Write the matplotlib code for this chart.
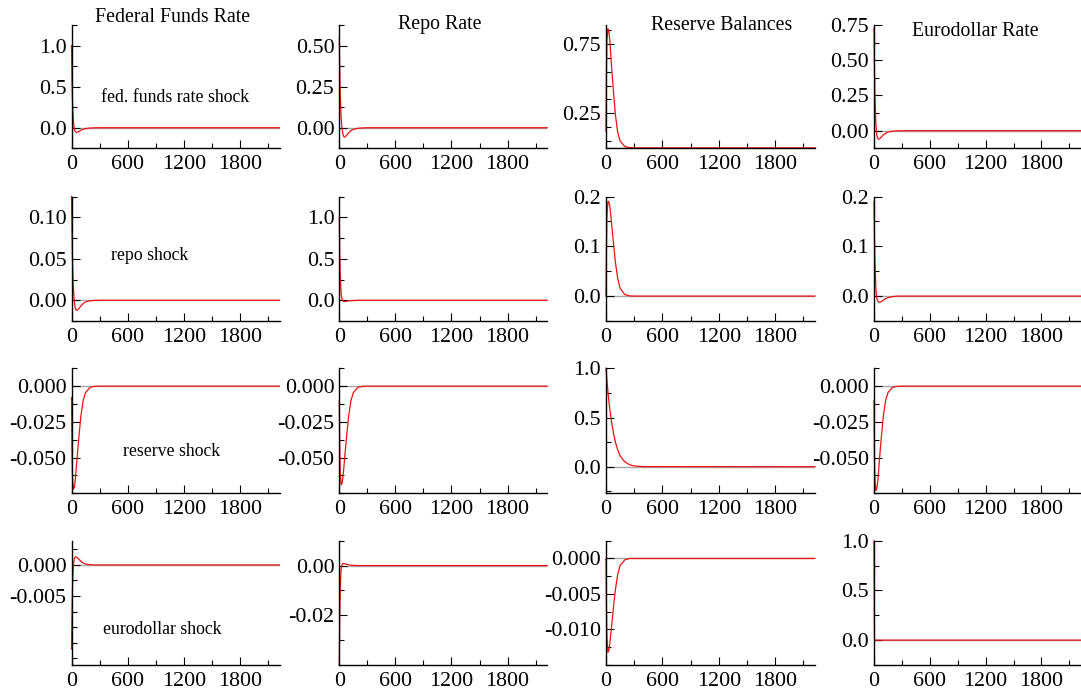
"""
Impulse responses of four money market rates/quantities to four shocks.
"""

import numpy as np
import matplotlib
matplotlib.use("Agg")
import matplotlib.pyplot as plt
from matplotlib.ticker import FixedLocator, FormatStrFormatter, MultipleLocator

FIG_W, FIG_H = 1081, 691
DPI = 100

VARIABLES = ["Federal Funds Rate", "Repo Rate", "Reserve Balances", "Eurodollar Rate"]
SHOCKS = ["fed. funds rate shock", "repo shock", "reserve shock", "eurodollar shock"]

X_MAJOR = [0, 600, 1200, 1800]
X_MAX = 2225

T = [0, 5, 10, 20, 30, 40, 50, 60, 80, 100, 125, 150, 200, 250, 300, 400, 2225]

# fed. funds rate shock
FF_FF = [1.0, 0.6, 0.35, 0.08, -0.02, -0.045, -0.055, -0.055, -0.045, -0.03, -0.018, -0.01, -0.003, -0.001, 0, 0, 0]
FF_REPO = [0.55, 0.35, 0.2, 0.06, -0.01, -0.04, -0.055, -0.057, -0.045, -0.03, -0.018, -0.01, -0.003, -0.001, 0, 0, 0]
FF_RES = [0.12, 0.55, 0.78, 0.86, 0.84, 0.78, 0.68, 0.58, 0.40, 0.24, 0.11, 0.05, 0.01, 0.002, 0, 0, 0]
FF_EURO = [0.73, 0.45, 0.25, 0.05, -0.03, -0.055, -0.06, -0.058, -0.045, -0.03, -0.018, -0.01, -0.003, -0.001, 0, 0, 0]

# repo shock
REPO_FF = [0.125, 0.08, 0.05, 0.015, -0.002, -0.009, -0.012, -0.012, -0.01, -0.007, -0.004, -0.002, -0.0006, -0.0002, 0, 0, 0]
REPO_REPO = [1.0, 0.55, 0.3, 0.08, 0.01, -0.01, -0.015, -0.015, -0.012, -0.008, -0.005, -0.003, -0.001, 0, 0, 0, 0]
REPO_RES = [0, 0.1, 0.16, 0.19, 0.19, 0.18, 0.165, 0.145, 0.105, 0.068, 0.035, 0.016, 0.003, 0.0005, 0, 0, 0]
REPO_EURO = [0.19, 0.12, 0.07, 0.015, -0.004, -0.01, -0.012, -0.0125, -0.011, -0.008, -0.005, -0.003, -0.001, 0, 0, 0, 0]

# reserve shock
RES_FF = [-0.008, -0.045, -0.063, -0.072, -0.071, -0.066, -0.058, -0.05, -0.035, -0.021, -0.01, -0.0045, -0.0008, -0.0001, 0, 0, 0]
RES_REPO = [-0.01, -0.045, -0.061, -0.069, -0.068, -0.063, -0.056, -0.048, -0.034, -0.021, -0.01, -0.0045, -0.0008, -0.0001, 0, 0, 0]
RES_RES = [1.0, 0.94, 0.88, 0.77, 0.67, 0.59, 0.52, 0.45, 0.34, 0.25, 0.17, 0.11, 0.05, 0.02, 0.008, 0.001, 0]
RES_EURO = [-0.01, -0.05, -0.065, -0.073, -0.072, -0.067, -0.059, -0.05, -0.035, -0.021, -0.01, -0.0045, -0.0008, -0.0001, 0, 0, 0]

# eurodollar shock
EURO_FF = [-0.0135, -0.008, -0.004, 0.0, 0.001, 0.0013, 0.0013, 0.0012, 0.0009, 0.0006, 0.0003, 0.00015, 0.00003, 0, 0, 0, 0]
EURO_REPO = [-0.04, -0.02, -0.009, -0.001, 0.0005, 0.0008, 0.0008, 0.0007, 0.0005, 0.0003, 0.00015, 0.00007, 0.00001, 0, 0, 0, 0]
EURO_RES = [0, -0.007, -0.011, -0.0132, -0.013, -0.012, -0.0108, -0.0095, -0.0068, -0.0044, -0.0022, -0.001, -0.0002, 0, 0, 0, 0]
EURO_EURO = [1.0, 0.02, 0, 0, 0, 0, 0, 0, 0, 0, 0, 0, 0, 0, 0, 0, 0]

RESPONSES = [[FF_FF, FF_REPO, FF_RES, FF_EURO],
             [REPO_FF, REPO_REPO, REPO_RES, REPO_EURO],
             [RES_FF, RES_REPO, RES_RES, RES_EURO],
             [EURO_FF, EURO_REPO, EURO_RES, EURO_EURO]]

# Per panel: (ylim, major ticks, minor ticks or step, label format)
Y_AXES = [
    [((-0.25, 1.25), [0, 0.5, 1.0], 0.25, "%.1f"),
     ((-0.125, 0.625), [0, 0.25, 0.5], 0.125, "%.2f"),
     ((-0.003, 0.887), [0.25, 0.75], [0.05, 0.15, 0.35, 0.45, 0.55, 0.65, 0.85], "%.2f"),
     ((-0.125, 0.75), [0, 0.25, 0.5, 0.75], 0.125, "%.2f")],
    [((-0.025, 0.125), [0, 0.05, 0.10], 0.025, "%.2f"),
     ((-0.25, 1.25), [0, 0.5, 1.0], 0.25, "%.1f"),
     ((-0.05, 0.2), [0, 0.1, 0.2], 0.05, "%.1f"),
     ((-0.05, 0.2), [0, 0.1, 0.2], 0.05, "%.1f")],
    [((-0.075, 0.0125), [0, -0.025, -0.05], 0.0125, "%.3f"),
     ((-0.075, 0.0125), [0, -0.025, -0.05], 0.0125, "%.3f"),
     ((-0.27, 1.0), [0, 0.5, 1.0], 0.25, "%.1f"),
     ((-0.075, 0.0125), [0, -0.025, -0.05], 0.0125, "%.3f")],
    [((-0.0161, 0.0039), [0, -0.005], 0.0025, "%.3f"),
     ((-0.04, 0.01), [0, -0.02], 0.01, "%.2f"),
     ((-0.015, 0.0025), [0, -0.005, -0.01], 0.0025, "%.3f"),
     ((-0.25, 1.0), [0, 0.5, 1.0], 0.25, "%.1f")],
]

# Axes boxes in pixels: left spine x, right end x, top y, bottom y.
COL_LEFT = [71.5, 339.3, 606, 874]
COL_RIGHT = [279.5, 547.3, 815, 1081]
ROW_TOP = [25, 196.5, 368.3, 540.7]
ROW_BOTTOM = [148.3, 321, 493.3, 665]

TITLE_POS = [(173, 18), (440, 25), (722, 25), (975, 31)]
SHOCK_POS = [(175, 97), (150, 255), (172, 452), (162, 630)]

FONT = "Liberation Serif"


def style_axis(ax, ylim, major, minor, fmt):
    """
    Mathematica-like axis: left and bottom spines, inward ticks.
    """
    for side in ("top", "right"):
        ax.spines[side].set_visible(False)
    for side in ("left", "bottom"):
        ax.spines[side].set_linewidth(1.0)
    ax.set_xlim(0, X_MAX)
    ax.set_ylim(*ylim)
    ax.xaxis.set_major_locator(FixedLocator(X_MAJOR))
    ax.xaxis.set_minor_locator(MultipleLocator(300))
    ax.yaxis.set_major_locator(FixedLocator(major))
    if isinstance(minor, list):
        ax.yaxis.set_minor_locator(FixedLocator(minor))
    else:
        ax.yaxis.set_minor_locator(MultipleLocator(minor))
    ax.yaxis.set_major_formatter(FormatStrFormatter(fmt))
    ax.tick_params(which="both", direction="in", width=0.8, labelsize=15.8)
    ax.tick_params(which="major", length=6)
    ax.tick_params(which="minor", length=3.3)
    ax.tick_params(axis="x", pad=5.0)
    ax.tick_params(axis="y", pad=3.6)
    for lab in ax.get_xticklabels() + ax.get_yticklabels():
        lab.set_fontfamily(FONT)


def main():
    plt.rcParams["font.family"] = [FONT, "DejaVu Serif"]
    plt.rcParams["axes.unicode_minus"] = False

    fig = plt.figure(figsize=(FIG_W / DPI, FIG_H / DPI), dpi=DPI)

    for r in range(4):
        for c in range(4):
            left = COL_LEFT[c] / FIG_W
            width = (COL_RIGHT[c] - COL_LEFT[c]) / FIG_W
            bottom = 1 - ROW_BOTTOM[r] / FIG_H
            height = (ROW_BOTTOM[r] - ROW_TOP[r]) / FIG_H
            ax = fig.add_axes([left, bottom, width, height])
            ax.axhline(0, color="#a6a6a6", lw=1.0, zorder=1)
            ax.plot(T, RESPONSES[r][c], color="#f01010", lw=0.9, zorder=2, clip_on=False)
            ylim, major, minor, fmt = Y_AXES[r][c]
            style_axis(ax, ylim, major, minor, fmt)

    for name, (x, y) in zip(VARIABLES, TITLE_POS):
        fig.text(x / FIG_W, 1 - y / FIG_H, name, ha="center", va="center", fontsize=14.3)
    for name, (x, y) in zip(SHOCKS, SHOCK_POS):
        fig.text(x / FIG_W, 1 - y / FIG_H, name, ha="center", va="center", fontsize=12.8)

    fig.savefig("out.png", dpi=DPI)


if __name__ == "__main__":
    main()
